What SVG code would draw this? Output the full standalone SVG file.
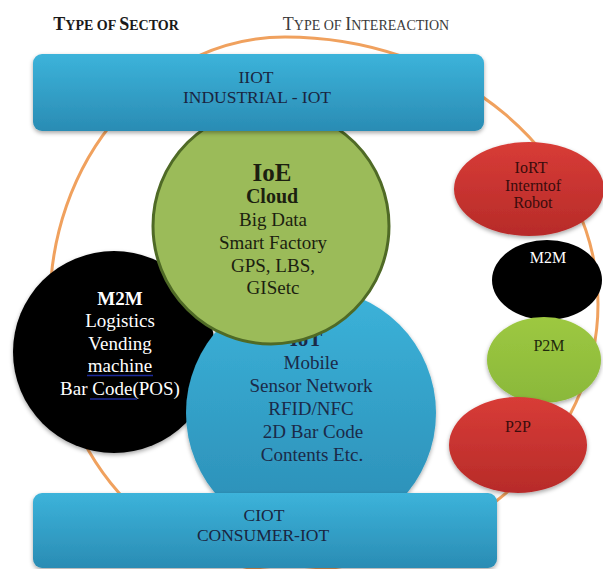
<svg xmlns="http://www.w3.org/2000/svg" width="603" height="569" viewBox="0 0 603 569" font-family="'Liberation Serif', 'Times New Roman', serif">
<defs>
<linearGradient id="gBlue" x1="0" y1="0" x2="0" y2="1">
<stop offset="0" stop-color="#3cb3da"/>
<stop offset="1" stop-color="#2a8cb4"/>
</linearGradient>
<linearGradient id="gRed" x1="0" y1="0" x2="0" y2="1">
<stop offset="0" stop-color="#d83c37"/>
<stop offset="1" stop-color="#b72b29"/>
</linearGradient>
<linearGradient id="gLime" x1="0" y1="0" x2="0" y2="1">
<stop offset="0" stop-color="#9dc841"/>
<stop offset="1" stop-color="#8ab83a"/>
</linearGradient>
<filter id="sh" x="-10%" y="-10%" width="120%" height="125%">
<feDropShadow dx="0" dy="2" stdDeviation="2" flood-color="#000" flood-opacity="0.35"/>
</filter>
<style>
text{font-family:'Liberation Serif','Times New Roman',serif;text-anchor:middle}
.hd{font-size:14px}
.hdL{font-size:18px}
.bar{fill:url(#gBlue);filter:url(#sh)}
.bt{font-size:17.5px;fill:#1a2540}
.gt{font-size:19px;fill:#1c1f10}
.it{font-size:19px;fill:#1b2a48}
.wt{font-size:19px;fill:#ffffff}
.rt{font-size:16px;fill:#3a0c0c}
.ul{stroke:#1c2a9a;stroke-width:1.5}
</style>
</defs>
<rect width="603" height="569" fill="#ffffff"/>

<g id="headers">
<text x="116" y="30" font-weight="bold" fill="#1a1a1a"><tspan class="hdL">T</tspan><tspan class="hd">YPE OF </tspan><tspan class="hdL">S</tspan><tspan class="hd">ECTOR</tspan></text>
<text x="366" y="30" fill="#3a3a3a"><tspan class="hdL">T</tspan><tspan class="hd">YPE OF </tspan><tspan class="hdL">I</tspan><tspan class="hd">NTEREACTION</tspan></text>
</g>

<g id="connectors">
<path d="M285 37 A313 267 0 0 1 598 304 A313 267 0 0 1 285 571 A235 267 0 0 1 50 304 A235 267 0 0 1 285 37 Z" fill="none" stroke="#f0a15e" stroke-width="3"/>
</g>

<g id="m2m-sector">
<circle cx="114" cy="352" r="101" fill="#000000" filter="url(#sh)"/>
<text x="120" y="305" class="wt" font-weight="bold">M2M</text>
<text x="120" y="327" class="wt">Logistics</text>
<text x="120" y="350" class="wt">Vending</text>
<text x="120" y="372" class="wt">machine</text>
<line class="ul" x1="87" y1="375.5" x2="153" y2="375.5"/>
<text x="120" y="395" class="wt">Bar Code(POS)</text>
<line class="ul" x1="90" y1="399" x2="137" y2="399"/>
</g>

<g id="iot">
<circle cx="311" cy="413" r="125" fill="url(#gBlue)" filter="url(#sh)"/>
<text x="306" y="346" class="it" font-weight="bold" style="font-size:21px">IoT</text>
<text x="311" y="369" class="it">Mobile</text>
<text x="311" y="392" class="it">Sensor Network</text>
<text x="311" y="415" class="it">RFID/NFC</text>
<text x="313" y="438" class="it">2D Bar Code</text>
<text x="312" y="461" class="it">Contents Etc.</text>
</g>

<g id="ioe">
<circle cx="271" cy="226" r="118" fill="#9bbb59" stroke="#4f6a26" stroke-width="3"/>
<text x="272" y="181" class="gt" font-weight="bold" style="font-size:25px">IoE</text>
<text x="272" y="203" class="gt" font-weight="bold" style="font-size:20px">Cloud</text>
<text x="273" y="226" class="gt">Big Data</text>
<text x="273" y="249" class="gt">Smart Factory</text>
<text x="273" y="272" class="gt">GPS, LBS,</text>
<text x="273" y="294" class="gt">GISetc</text>
</g>

<g id="iiot">
<rect class="bar" x="33" y="54" width="451" height="77" rx="9"/>
<text x="256" y="83" class="bt">IIOT</text>
<text x="257" y="103" class="bt">INDUSTRIAL - IOT</text>
</g>

<g id="ciot">
<rect class="bar" x="33" y="493" width="464" height="75" rx="9"/>
<text x="264" y="521" class="bt">CIOT</text>
<text x="263" y="541" class="bt">CONSUMER-IOT</text>
</g>

<g id="iort">
<ellipse cx="529" cy="189" rx="75" ry="47" fill="url(#gRed)" filter="url(#sh)"/>
<text x="531" y="173" class="rt">IoRT</text>
<text x="533" y="191" class="rt">Interntof</text>
<text x="533" y="208" class="rt">Robot</text>
</g>

<g id="m2m-interaction">
<ellipse cx="547" cy="280" rx="55" ry="40" fill="#000000"/>
<text x="548" y="263" class="wt" style="font-size:16px">M2M</text>
</g>

<g id="p2m">
<ellipse cx="544" cy="360" rx="57" ry="43" fill="url(#gLime)" filter="url(#sh)"/>
<text x="549" y="351" class="rt" style="fill:#1f2a0c">P2M</text>
</g>

<g id="p2p">
<ellipse cx="518" cy="445" rx="69" ry="48" fill="url(#gRed)" filter="url(#sh)"/>
<text x="518" y="432" class="rt">P2P</text>
</g>
</svg>
